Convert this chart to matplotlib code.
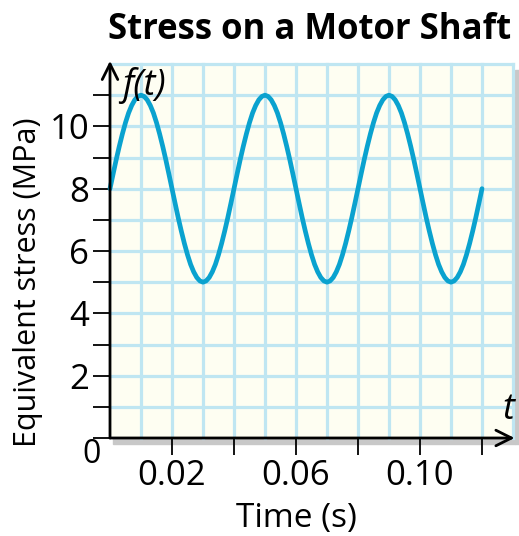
import matplotlib.pyplot as plt
from matplotlib.patches import Rectangle

# stress every 0.001 s
time_s = [0.000, 0.001, 0.002, 0.003, 0.004, 0.005, 0.006, 0.007, 0.008, 0.009,
          0.010, 0.011, 0.012, 0.013, 0.014, 0.015, 0.016, 0.017, 0.018, 0.019,
          0.020, 0.021, 0.022, 0.023, 0.024, 0.025, 0.026, 0.027, 0.028, 0.029,
          0.030, 0.031, 0.032, 0.033, 0.034, 0.035, 0.036, 0.037, 0.038, 0.039,
          0.040, 0.041, 0.042, 0.043, 0.044, 0.045, 0.046, 0.047, 0.048, 0.049,
          0.050, 0.051, 0.052, 0.053, 0.054, 0.055, 0.056, 0.057, 0.058, 0.059,
          0.060, 0.061, 0.062, 0.063, 0.064, 0.065, 0.066, 0.067, 0.068, 0.069,
          0.070, 0.071, 0.072, 0.073, 0.074, 0.075, 0.076, 0.077, 0.078, 0.079,
          0.080, 0.081, 0.082, 0.083, 0.084, 0.085, 0.086, 0.087, 0.088, 0.089,
          0.090, 0.091, 0.092, 0.093, 0.094, 0.095, 0.096, 0.097, 0.098, 0.099,
          0.100, 0.101, 0.102, 0.103, 0.104, 0.105, 0.106, 0.107, 0.108, 0.109,
          0.110, 0.111, 0.112, 0.113, 0.114, 0.115, 0.116, 0.117, 0.118, 0.119,
          0.120]
stress = [8.00, 8.47, 8.93, 9.36, 9.76, 10.12, 10.43, 10.67, 10.85, 10.96,
          11.00, 10.96, 10.85, 10.67, 10.43, 10.12, 9.76, 9.36, 8.93, 8.47,
          8.00, 7.53, 7.07, 6.64, 6.24, 5.88, 5.57, 5.33, 5.15, 5.04,
          5.00, 5.04, 5.15, 5.33, 5.57, 5.88, 6.24, 6.64, 7.07, 7.53,
          8.00, 8.47, 8.93, 9.36, 9.76, 10.12, 10.43, 10.67, 10.85, 10.96,
          11.00, 10.96, 10.85, 10.67, 10.43, 10.12, 9.76, 9.36, 8.93, 8.47,
          8.00, 7.53, 7.07, 6.64, 6.24, 5.88, 5.57, 5.33, 5.15, 5.04,
          5.00, 5.04, 5.15, 5.33, 5.57, 5.88, 6.24, 6.64, 7.07, 7.53,
          8.00, 8.47, 8.93, 9.36, 9.76, 10.12, 10.43, 10.67, 10.85, 10.96,
          11.00, 10.96, 10.85, 10.67, 10.43, 10.12, 9.76, 9.36, 8.93, 8.47,
          8.00, 7.53, 7.07, 6.64, 6.24, 5.88, 5.57, 5.33, 5.15, 5.04,
          5.00, 5.04, 5.15, 5.33, 5.57, 5.88, 6.24, 6.64, 7.07, 7.53,
          8.00]

x_ticks = [0.02, 0.04, 0.06, 0.08, 0.10, 0.12]
x_labels = ['0.02', '', '0.06', '', '0.10', '']
y_ticks = [0, 1, 2, 3, 4, 5, 6, 7, 8, 9, 10, 11]
y_labels = ['', '', '2', '', '4', '', '6', '', '8', '', '10', '']

plt.rcParams['font.family'] = ['Open Sans', 'DejaVu Sans']

W, H = 519, 536
fig = plt.figure(figsize=(W / 100, H / 100), dpi=100)
ax = fig.add_axes([110 / W, 98 / H, 403 / W, 374 / H])
ax.set_xlim(0, 0.13)
ax.set_ylim(0, 12)
ax.set_facecolor('#fefef2')

# grid
for gx in [i * 0.01 for i in range(1, 14)]:
    ax.axvline(gx, color='#bfe6f2', lw=2.3, zorder=1, clip_on=False)
for gy in range(1, 13):
    ax.axhline(gy, color='#bfe6f2', lw=2.3, zorder=1, clip_on=False)

# drop shadow under the grid
fig.patches.append(Rectangle((113 / W, 92 / H), 402 / W, 6 / H, transform=fig.transFigure,
                             color='#c8c8c8', zorder=-1))
fig.patches.append(Rectangle((515 / W, 92 / H), 4 / W, 374 / H, transform=fig.transFigure,
                             color='#c8c8c8', zorder=-1))

ax.plot(time_s, stress, color='#0aa2cf', lw=3.4, zorder=3, clip_on=False,
        solid_capstyle='round', solid_joinstyle='round')

for s in ['top', 'right', 'left', 'bottom']:
    ax.spines[s].set_visible(False)

# axis lines with arrow heads
ax.annotate('', xy=(0, 12.1), xytext=(0, 0), xycoords='data',
            arrowprops=dict(arrowstyle='->', lw=2, color='black', mutation_scale=28,
                            shrinkA=0, shrinkB=0),
            annotation_clip=False, zorder=5)
ax.annotate('', xy=(0.1305, 0), xytext=(0, 0), xycoords='data',
            arrowprops=dict(arrowstyle='->', lw=2, color='black', mutation_scale=28,
                            shrinkA=0, shrinkB=0),
            annotation_clip=False, zorder=5)

ax.set_xticks(x_ticks)
ax.set_xticklabels(x_labels)
ax.set_yticks(y_ticks)
ax.set_yticklabels(y_labels)
ax.tick_params(axis='both', length=12, width=1.3, labelsize=25, pad=3)

ax.text(0.0038, 11.3, 'f(t)', fontsize=26, style='italic', ha='left', va='center', zorder=5)
ax.text(0.1284, 0.9, 't', fontsize=26, style='italic', ha='center', va='center', zorder=5)
ax.text(-0.0058, -0.52, '0', fontsize=23, ha='center', va='center')

ax.set_xlabel('Time (s)', fontsize=24)
ax.xaxis.set_label_coords(0.4615, -0.172)
ax.set_ylabel('Equivalent stress (MPa)', fontsize=22)
ax.yaxis.set_label_coords(-0.166, 0.417)
fig.text(310 / W, 1 - 30 / H, 'Stress on a Motor Shaft', fontsize=25, fontweight='bold',
         ha='center', va='center')

fig.savefig('out.png', dpi=100)
